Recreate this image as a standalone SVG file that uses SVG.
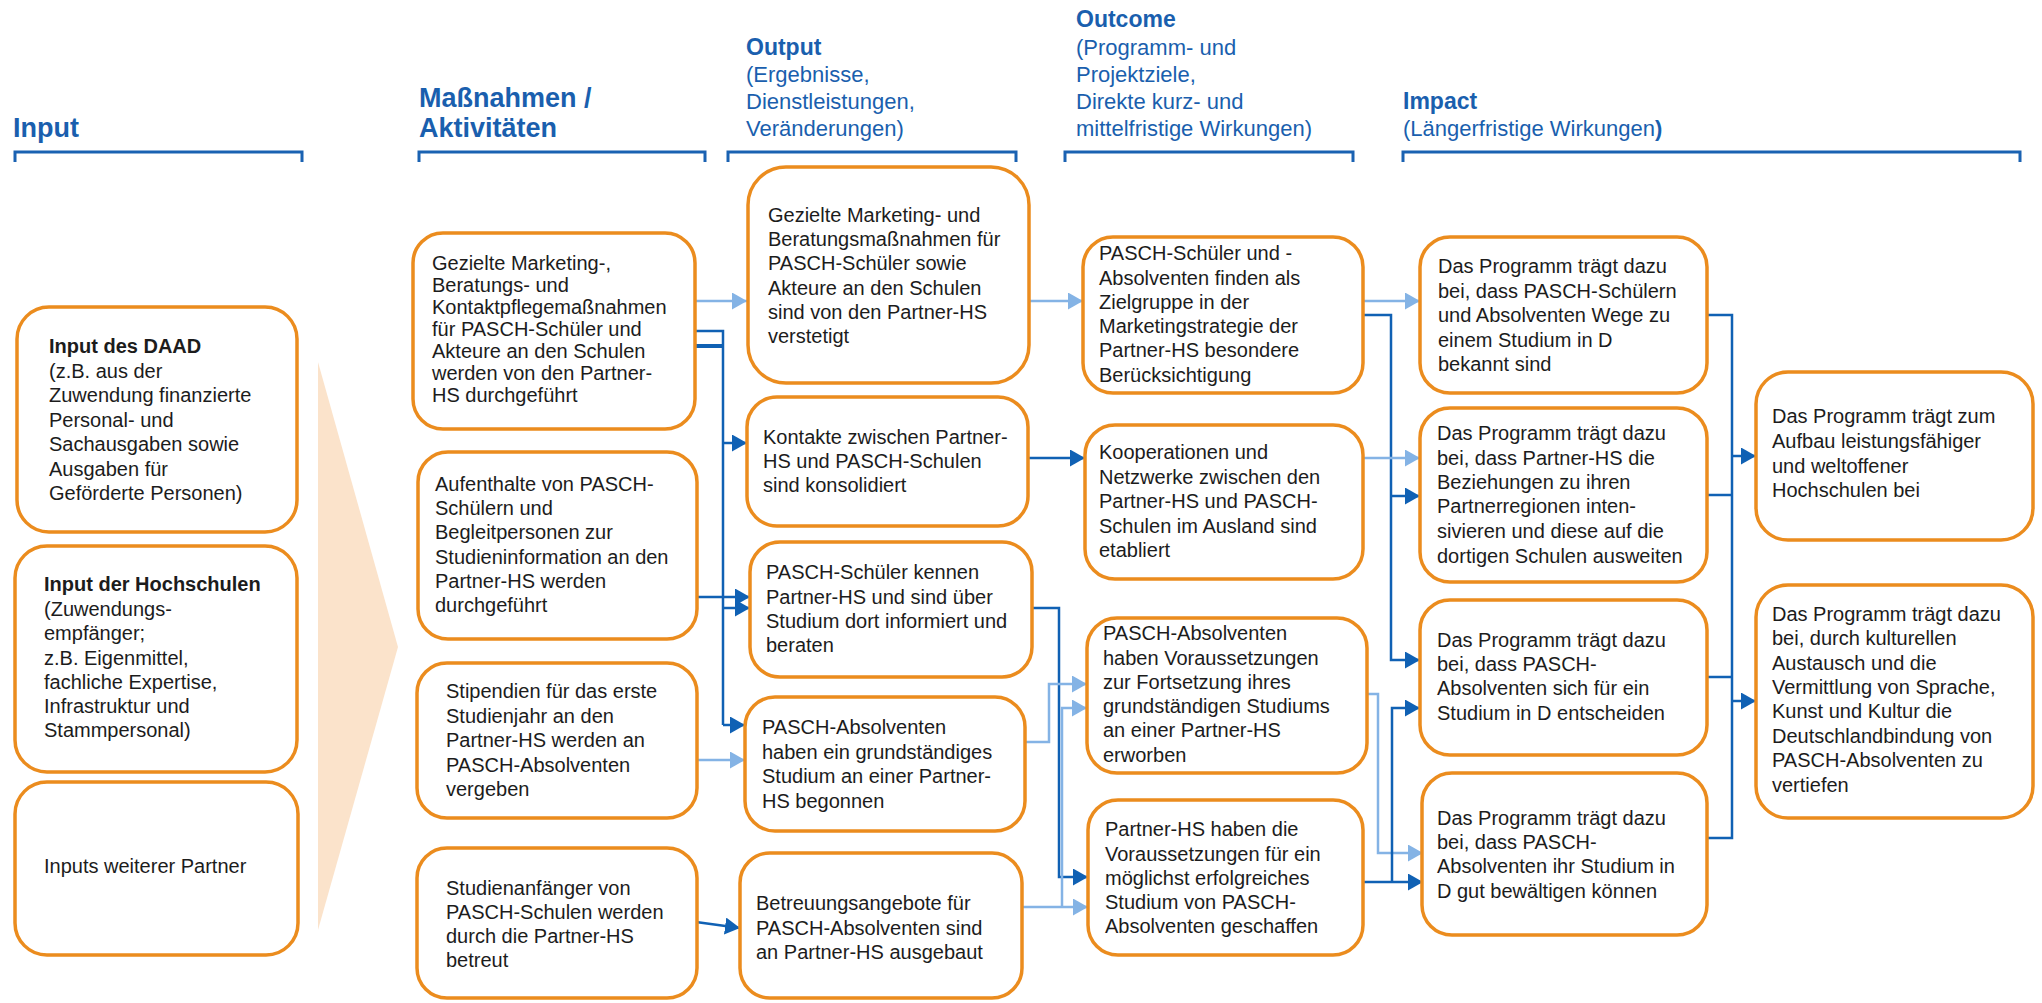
<svg xmlns="http://www.w3.org/2000/svg" width="2042" height="1003" viewBox="0 0 2042 1003">
<defs>
<style>
.hd{font-family:"Liberation Sans",Arial,sans-serif;fill:#1a5fae;font-size:22px}
.hb{font-weight:bold;font-size:23px}
.hbig{font-weight:bold;font-size:27px}
.br{fill:none;stroke:#1a62b2;stroke-width:3}
.box{fill:#fff;stroke:#eb8c1e;stroke-width:3.5}
.t{font-family:"Liberation Sans",Arial,sans-serif;font-size:20px;fill:#1c1c1c}
.b{font-weight:bold}
.dk{fill:none;stroke:#1061b4;stroke-width:2.5}
.dkt{fill:none;stroke:#1061b4;stroke-width:4}
.lt{fill:none;stroke:#84b3e5;stroke-width:2.5}
.dka{fill:none;stroke:#1061b4;stroke-width:2.5;marker-end:url(#ad)}
.lta{fill:none;stroke:#84b3e5;stroke-width:2.5;marker-end:url(#al)}
</style>
<marker id="ad" markerUnits="userSpaceOnUse" markerWidth="16" markerHeight="18" refX="15" refY="8.5" orient="auto"><path d="M0,0 L15,8.5 L0,17 z" fill="#1061b4"/></marker>
<marker id="al" markerUnits="userSpaceOnUse" markerWidth="16" markerHeight="18" refX="15" refY="8.5" orient="auto"><path d="M0,0 L15,8.5 L0,17 z" fill="#84b3e5"/></marker>
</defs>
<rect width="2042" height="1003" fill="#fff"/>

<g id="headers">
<text class="hd hbig" x="13" y="137">Input</text>
<text class="hd hbig" x="419" y="107">Maßnahmen /</text>
<text class="hd hbig" x="419" y="137">Aktivitäten</text>
<text class="hd" x="746"><tspan class="hb" x="746" y="55">Output</tspan><tspan x="746" y="82">(Ergebnisse,</tspan><tspan x="746" y="109">Dienstleistungen,</tspan><tspan x="746" y="136">Veränderungen)</tspan></text>
<text class="hd" x="1076"><tspan class="hb" x="1076" y="27">Outcome</tspan><tspan x="1076" y="55">(Programm- und</tspan><tspan x="1076" y="82">Projektziele,</tspan><tspan x="1076" y="109">Direkte kurz- und</tspan><tspan x="1076" y="136">mittelfristige  Wirkungen)</tspan></text>
<text class="hd" x="1403"><tspan class="hb" x="1403" y="109">Impact</tspan><tspan x="1403" y="136">(Längerfristige Wirkungen</tspan><tspan class="b">)</tspan></text>
<path class="br" d="M15,162 V152 H302 V162"/>
<path class="br" d="M419,162 V152 H705 V162"/>
<path class="br" d="M728,162 V152 H1016 V162"/>
<path class="br" d="M1065,162 V152 H1353 V162"/>
<path class="br" d="M1403,162 V152 H2020 V162"/>
</g>

<polygon id="chevron" points="318,362 398,647 318,930" fill="#fbe3cb"/>

<g id="connectors">
<path class="lta" d="M695,301 H747"/>
<path class="dk" d="M695,331 H723 V725"/>
<path class="dkt" d="M695,346 H723"/>
<path class="dka" d="M723,443 H747"/>
<path class="dka" d="M723,608 H750"/>
<path class="dka" d="M723,725 H745"/>
<path class="dka" d="M697,597 H750"/>
<path class="lta" d="M697,760 H745"/>
<path class="dka" d="M696,922 L740,928"/>
<path class="lta" d="M1029,301 H1083"/>
<path class="dka" d="M1028,458 H1085"/>
<path class="dka" d="M1032,608 H1059 V877 H1088"/>
<path class="lta" d="M1025,742 H1049 V684 H1087"/>
<path class="lta" d="M1022,907 H1088"/>
<path class="lta" d="M1062,907 V708 H1087"/>
<path class="lta" d="M1363,301 H1420"/>
<path class="dka" d="M1363,315 H1391 V660 H1420"/>
<path class="dka" d="M1391,496 H1420"/>
<path class="lta" d="M1363,458 H1420"/>
<path class="lta" d="M1367,694 H1378 V853 H1423"/>
<path class="dka" d="M1363,882 H1423"/>
<path class="dka" d="M1392,882 V708 H1420"/>
<path class="dk" d="M1707,315 H1732 V838 H1707"/>
<path class="dk" d="M1707,495 H1732"/>
<path class="dk" d="M1707,677 H1732"/>
<path class="dka" d="M1732,456 H1756"/>
<path class="dka" d="M1732,701 H1756"/>
</g>

<g id="in-daad"><rect class="box" x="17" y="307" width="280" height="225" rx="32"/>
<text class="t" x="49"><tspan class="b" x="49" y="353">Input des DAAD</tspan><tspan x="49" y="378">(z.B. aus der</tspan><tspan x="49" y="402">Zuwendung finanzierte</tspan><tspan x="49" y="427">Personal- und</tspan><tspan x="49" y="451">Sachausgaben sowie</tspan><tspan x="49" y="476">Ausgaben für</tspan><tspan x="49" y="500">Geförderte Personen)</tspan></text></g>

<g id="in-hs"><rect class="box" x="15" y="546" width="282" height="226" rx="32"/>
<text class="t" x="44"><tspan class="b" x="44" y="591">Input der Hochschulen</tspan><tspan x="44" y="616">(Zuwendungs-</tspan><tspan x="44" y="640">empfänger;</tspan><tspan x="44" y="665">z.B. Eigenmittel,</tspan><tspan x="44" y="689">fachliche Expertise,</tspan><tspan x="44" y="713">Infrastruktur  und</tspan><tspan x="44" y="737">Stammpersonal)</tspan></text></g>

<g id="in-partner"><rect class="box" x="15" y="782" width="283" height="173" rx="32"/>
<text class="t" x="44" y="873">Inputs weiterer Partner</text></g>

<g id="m1"><rect class="box" x="413" y="233" width="282" height="196" rx="30"/>
<text class="t"><tspan x="432" y="270">Gezielte Marketing-,</tspan><tspan x="432" y="292">Beratungs- und</tspan><tspan x="432" y="314">Kontaktpflegemaßnahmen</tspan><tspan x="432" y="336">für PASCH-Schüler und</tspan><tspan x="432" y="358">Akteure an den Schulen</tspan><tspan x="432" y="380">werden von den Partner-</tspan><tspan x="432" y="402">HS durchgeführt</tspan></text></g>

<g id="m2"><rect class="box" x="418" y="452" width="279" height="187" rx="30"/>
<text class="t"><tspan x="435" y="491">Aufenthalte von PASCH-</tspan><tspan x="435" y="515">Schülern und</tspan><tspan x="435" y="539">Begleitpersonen zur</tspan><tspan x="435" y="564">Studieninformation an den</tspan><tspan x="435" y="588">Partner-HS werden</tspan><tspan x="435" y="612">durchgeführt</tspan></text></g>

<g id="m3"><rect class="box" x="417" y="663" width="280" height="155" rx="30"/>
<text class="t"><tspan x="446" y="698">Stipendien für das erste</tspan><tspan x="446" y="723">Studienjahr an den</tspan><tspan x="446" y="747">Partner-HS werden an</tspan><tspan x="446" y="772">PASCH-Absolventen</tspan><tspan x="446" y="796">vergeben</tspan></text></g>

<g id="m4"><rect class="box" x="417" y="848" width="280" height="150" rx="30"/>
<text class="t"><tspan x="446" y="895">Studienanfänger von</tspan><tspan x="446" y="919">PASCH-Schulen werden</tspan><tspan x="446" y="943">durch die Partner-HS</tspan><tspan x="446" y="967">betreut</tspan></text></g>

<g id="o1"><rect class="box" x="748" y="167" width="281" height="216" rx="38"/>
<text class="t"><tspan x="768" y="222">Gezielte Marketing- und</tspan><tspan x="768" y="246">Beratungsmaßnahmen für</tspan><tspan x="768" y="270">PASCH-Schüler sowie</tspan><tspan x="768" y="295">Akteure an den Schulen</tspan><tspan x="768" y="319">sind von den Partner-HS</tspan><tspan x="768" y="343">verstetigt</tspan></text></g>

<g id="o2"><rect class="box" x="747" y="397" width="281" height="129" rx="30"/>
<text class="t"><tspan x="763" y="444">Kontakte zwischen Partner-</tspan><tspan x="763" y="468">HS und PASCH-Schulen</tspan><tspan x="763" y="492">sind konsolidiert</tspan></text></g>

<g id="o3"><rect class="box" x="750" y="542" width="282" height="135" rx="30"/>
<text class="t"><tspan x="766" y="579">PASCH-Schüler kennen</tspan><tspan x="766" y="604">Partner-HS und sind über</tspan><tspan x="766" y="628">Studium dort informiert und</tspan><tspan x="766" y="652">beraten</tspan></text></g>

<g id="o4"><rect class="box" x="745" y="697" width="280" height="134" rx="30"/>
<text class="t"><tspan x="762" y="734">PASCH-Absolventen</tspan><tspan x="762" y="759">haben ein grundständiges</tspan><tspan x="762" y="783">Studium an einer Partner-</tspan><tspan x="762" y="808">HS begonnen</tspan></text></g>

<g id="o5"><rect class="box" x="740" y="853" width="282" height="145" rx="30"/>
<text class="t"><tspan x="756" y="910">Betreuungsangebote für</tspan><tspan x="756" y="935">PASCH-Absolventen sind</tspan><tspan x="756" y="959">an Partner-HS ausgebaut</tspan></text></g>

<g id="c1"><rect class="box" x="1083" y="237" width="280" height="156" rx="30"/>
<text class="t"><tspan x="1099" y="260">PASCH-Schüler und -</tspan><tspan x="1099" y="285">Absolventen finden als</tspan><tspan x="1099" y="309">Zielgruppe in der</tspan><tspan x="1099" y="333">Marketingstrategie der</tspan><tspan x="1099" y="357">Partner-HS besondere</tspan><tspan x="1099" y="382">Berücksichtigung</tspan></text></g>

<g id="c2"><rect class="box" x="1085" y="425" width="278" height="154" rx="30"/>
<text class="t"><tspan x="1099" y="459">Kooperationen und</tspan><tspan x="1099" y="484">Netzwerke zwischen den</tspan><tspan x="1099" y="508">Partner-HS und PASCH-</tspan><tspan x="1099" y="533">Schulen im Ausland sind</tspan><tspan x="1099" y="557">etabliert</tspan></text></g>

<g id="c3"><rect class="box" x="1087" y="618" width="280" height="155" rx="30"/>
<text class="t"><tspan x="1103" y="640">PASCH-Absolventen</tspan><tspan x="1103" y="665">haben Voraussetzungen</tspan><tspan x="1103" y="689">zur Fortsetzung ihres</tspan><tspan x="1103" y="713">grundständigen Studiums</tspan><tspan x="1103" y="737">an einer Partner-HS</tspan><tspan x="1103" y="762">erworben</tspan></text></g>

<g id="c4"><rect class="box" x="1088" y="800" width="275" height="155" rx="30"/>
<text class="t"><tspan x="1105" y="836">Partner-HS haben die</tspan><tspan x="1105" y="861">Voraussetzungen für ein</tspan><tspan x="1105" y="885">möglichst erfolgreiches</tspan><tspan x="1105" y="909">Studium von PASCH-</tspan><tspan x="1105" y="933">Absolventen geschaffen</tspan></text></g>

<g id="i1"><rect class="box" x="1420" y="237" width="287" height="156" rx="30"/>
<text class="t"><tspan x="1438" y="273">Das Programm trägt dazu</tspan><tspan x="1438" y="298">bei, dass PASCH-Schülern</tspan><tspan x="1438" y="322">und Absolventen Wege zu</tspan><tspan x="1438" y="347">einem Studium in D</tspan><tspan x="1438" y="371">bekannt sind</tspan></text></g>

<g id="i2"><rect class="box" x="1420" y="408" width="287" height="174" rx="30"/>
<text class="t"><tspan x="1437" y="440">Das Programm trägt dazu</tspan><tspan x="1437" y="465">bei, dass Partner-HS die</tspan><tspan x="1437" y="489">Beziehungen zu ihren</tspan><tspan x="1437" y="513">Partnerregionen inten-</tspan><tspan x="1437" y="538">sivieren und diese auf die</tspan><tspan x="1437" y="563">dortigen Schulen ausweiten</tspan></text></g>

<g id="i3"><rect class="box" x="1420" y="600" width="287" height="155" rx="30"/>
<text class="t"><tspan x="1437" y="647">Das Programm trägt dazu</tspan><tspan x="1437" y="671">bei, dass PASCH-</tspan><tspan x="1437" y="695">Absolventen sich für ein</tspan><tspan x="1437" y="720">Studium in D entscheiden</tspan></text></g>

<g id="i4"><rect class="box" x="1422" y="773" width="285" height="162" rx="30"/>
<text class="t"><tspan x="1437" y="825">Das Programm trägt dazu</tspan><tspan x="1437" y="849">bei, dass PASCH-</tspan><tspan x="1437" y="873">Absolventen ihr Studium in</tspan><tspan x="1437" y="898">D gut bewältigen können</tspan></text></g>

<g id="big1"><rect class="box" x="1756" y="372" width="277" height="168" rx="32"/>
<text class="t"><tspan x="1772" y="423">Das Programm trägt zum</tspan><tspan x="1772" y="448">Aufbau leistungsfähiger</tspan><tspan x="1772" y="473">und weltoffener</tspan><tspan x="1772" y="497">Hochschulen bei</tspan></text></g>

<g id="big2"><rect class="box" x="1756" y="585" width="277" height="233" rx="32"/>
<text class="t"><tspan x="1772" y="621">Das Programm trägt dazu</tspan><tspan x="1772" y="645">bei, durch kulturellen</tspan><tspan x="1772" y="670">Austausch und die</tspan><tspan x="1772" y="694">Vermittlung von Sprache,</tspan><tspan x="1772" y="718">Kunst und Kultur die</tspan><tspan x="1772" y="743">Deutschlandbindung von</tspan><tspan x="1772" y="767">PASCH-Absolventen zu</tspan><tspan x="1772" y="792">vertiefen</tspan></text></g>
</svg>
